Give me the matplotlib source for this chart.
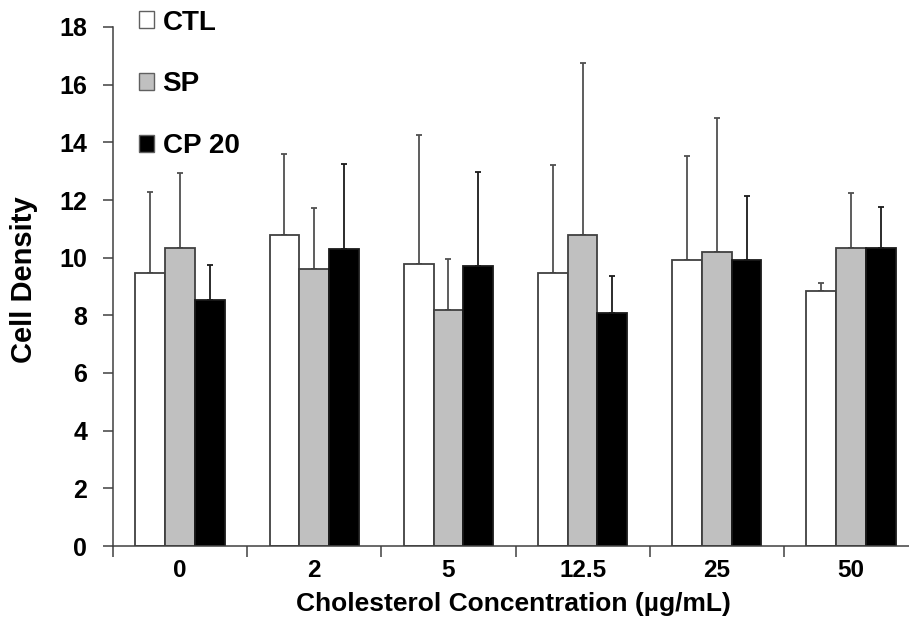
import matplotlib
matplotlib.use("Agg")
import matplotlib.pyplot as plt
from matplotlib.patches import Patch
import numpy as np

categories = ["0", "2", "5", "12.5", "25", "50"]
series_names = ["CTL", "SP", "CP 20"]
ctl = [9.46, 10.78, 9.78, 9.46, 9.92, 8.86]
sp = [10.35, 9.60, 8.17, 10.80, 10.20, 10.33]
cp20 = [8.53, 10.29, 9.71, 8.07, 9.92, 10.32]
ctl_err = [2.83, 2.82, 4.49, 3.74, 3.62, 0.26]
sp_err = [2.59, 2.12, 1.78, 5.95, 4.63, 1.93]
cp20_err = [1.21, 2.96, 3.27, 1.31, 2.23, 1.45]
y_ticks = [0, 2, 4, 6, 8, 10, 12, 14, 16, 18]

bold = ['Liberation Sans', 'DejaVu Sans']

fig = plt.figure(figsize=(9.09, 6.2), dpi=100)
ax = fig.add_axes([113/909, 74/620, 805/909, 519/620])

n = len(categories)
centers = np.arange(n) + 0.5
w = 0.222
fills = ["white", "#c0c0c0", "black"]
edges = ["#404040", "#404040", "#1a1a1a"]
errc = ["#505050", "#505050", "#1a1a1a"]
vals = [ctl, sp, cp20]
errs = [ctl_err, sp_err, cp20_err]
for k in range(3):
    x = centers + (k - 1) * w
    ax.bar(x, vals[k], width=w, color=fills[k], edgecolor=edges[k], linewidth=1.3, zorder=2)
    ax.errorbar(x, vals[k], yerr=[np.zeros(n), errs[k]], fmt='none', ecolor=errc[k],
                elinewidth=1.3, capsize=2.5, capthick=1.3, zorder=1)

ax.set_xlim(0, n)
ax.set_ylim(0, 18)
ax.set_yticks(y_ticks)
ax.set_yticklabels([str(t) for t in y_ticks], fontfamily=bold, fontweight='bold', fontsize=18)
ax.set_xticks(np.arange(n + 1))
ax.set_xticklabels([])
ax.set_xticks(centers, minor=True)
ax.set_xticklabels(categories, minor=True, fontfamily=bold, fontweight='bold', fontsize=17.5)
ax.tick_params(axis='x', which='major', direction='out', length=8, width=1.1, color='#404040')
ax.tick_params(axis='x', which='minor', length=0, pad=9.5)
ax.tick_params(axis='y', direction='out', length=7.5, width=1.1, color='#404040', pad=11)
for s in ['top', 'right']:
    ax.spines[s].set_visible(False)
for s in ['left', 'bottom']:
    ax.spines[s].set_color('#404040')
    ax.spines[s].set_linewidth(1.1)

fig.text(24/909, 1 - 280/620, "Cell Density", rotation=90, ha='center', va='center',
         fontfamily=bold, fontweight='bold', fontsize=21)
fig.text(513/909, 1 - 611/620, "Cholesterol Concentration (µg/mL)", ha='center', va='baseline',
         fontfamily=bold, fontweight='bold', fontsize=19)

handles = [Patch(facecolor=fills[k], edgecolor='#606060', linewidth=1.0) for k in range(3)]
leg = fig.legend(handles, series_names, loc='upper left', bbox_to_anchor=(139/909, 1 - 9.5/620),
                 frameon=False, borderpad=0, borderaxespad=0, handlelength=0.55, handleheight=0.55,
                 handletextpad=0.3, labelspacing=1.29,
                 prop={'family': bold, 'weight': 'bold', 'size': 20})

fig.savefig("out.png", dpi=100)
